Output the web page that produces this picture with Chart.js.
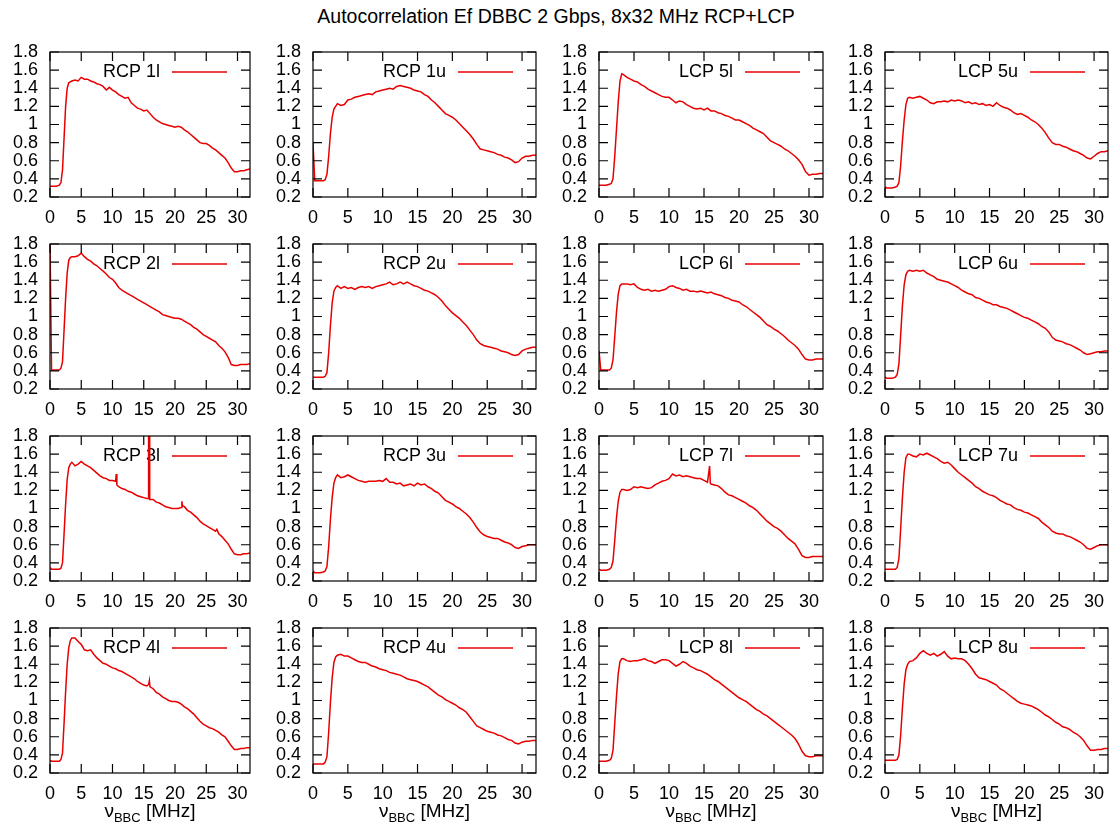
<!DOCTYPE html>
<html>
<head>
<meta charset="utf-8">
<script src="https://cdn.jsdelivr.net/npm/chart.js@4.4.1/dist/chart.umd.min.js"></script>
<style>
  body { margin: 0; background: #fff; width: 1112px; height: 829px; position: relative; overflow: hidden;
         font-family: "Liberation Sans", Arial, sans-serif; }
  #title { position: absolute; left: 0; width: 1112px; top: 5px; text-align: center; font-size: 19.5px; color: #000; }
  canvas { position: absolute; }
  .xl { position: absolute; top: 800px; text-align: center; font-size: 19px; color: #000; white-space: nowrap; }
  .xl sub { font-size: 13px; }
</style>
</head>
<body>
<div id="title">Autocorrelation Ef DBBC 2 Gbps, 8x32 MHz RCP+LCP</div>
<script>
// frequency grid in MHz (finer around the band edge)
const freqs = [0,0.25,0.5,1,1.5,1.75,2,2.25,2.5,2.75,3,3.25,3.5,
  4,4.5,5,5.5,6,6.5,7,7.5,8,8.5,
  9,9.5,10,10.5,11,11.5,12,12.5,13,13.5,
  14,14.5,15,15.5,16,16.5,17,17.5,18,18.5,
  19,19.5,20,20.5,21,21.5,22,22.5,23,23.5,
  24,24.5,25,25.5,26,26.5,27,27.5,28,28.5,
  29,29.5,30,30.5,31,31.5,32];

const xTicks = [0, 5, 10, 15, 20, 25, 30];
const yTicks = [0.2, 0.4, 0.6, 0.8, 1.0, 1.2, 1.4, 1.6, 1.8];
const yTickLabels = ['0.2', '0.4', '0.6', '0.8', '1', '1.2', '1.4', '1.6', '1.8'];

const panelNames = ['RCP 1l', 'RCP 1u', 'LCP 5l', 'LCP 5u',
                    'RCP 2l', 'RCP 2u', 'LCP 6l', 'LCP 6u',
                    'RCP 3l', 'RCP 3u', 'LCP 7l', 'LCP 7u',
                    'RCP 4l', 'RCP 4u', 'LCP 8l', 'LCP 8u'];

const rcp1l = [0.32,0.32,0.32,0.32,0.33,0.36,0.50,0.85,1.20,1.40,1.46,1.47,1.48,
  1.49,1.48,1.52,1.50,1.50,1.48,1.47,1.45,1.44,1.42,
  1.38,1.41,1.38,1.36,1.33,1.31,1.29,1.30,1.24,1.21,
  1.18,1.17,1.15,1.16,1.12,1.08,1.05,1.03,1.01,1.00,
  0.99,0.98,0.97,0.98,0.97,0.94,0.92,0.89,0.86,0.83,
  0.80,0.79,0.79,0.77,0.74,0.72,0.69,0.66,0.63,0.58,
  0.52,0.48,0.48,0.49,0.49,0.50,0.51];
const rcp1u = [0.80,0.38,0.38,0.38,0.38,0.39,0.45,0.65,0.90,1.08,1.17,1.20,1.23,
  1.21,1.22,1.27,1.28,1.30,1.31,1.32,1.33,1.34,1.33,
  1.36,1.37,1.38,1.39,1.40,1.39,1.42,1.43,1.42,1.41,
  1.40,1.38,1.37,1.36,1.33,1.31,1.27,1.24,1.20,1.16,
  1.12,1.10,1.08,1.05,1.01,0.97,0.93,0.89,0.84,0.78,
  0.73,0.72,0.71,0.70,0.69,0.67,0.66,0.64,0.63,0.61,
  0.58,0.59,0.63,0.65,0.65,0.66,0.66];
const lcp5l = [0.33,0.33,0.33,0.33,0.34,0.35,0.40,0.65,0.95,1.25,1.48,1.56,1.55,
  1.52,1.50,1.48,1.47,1.44,1.42,1.39,1.37,1.35,1.33,
  1.31,1.30,1.30,1.27,1.24,1.26,1.25,1.22,1.20,1.18,
  1.17,1.18,1.16,1.18,1.15,1.15,1.13,1.12,1.10,1.09,
  1.07,1.05,1.05,1.03,1.01,0.99,0.96,0.94,0.92,0.90,
  0.86,0.82,0.80,0.78,0.76,0.73,0.71,0.68,0.65,0.61,
  0.56,0.48,0.44,0.45,0.45,0.46,0.46];
const lcp5u = [0.31,0.30,0.30,0.30,0.31,0.32,0.36,0.55,0.82,1.05,1.22,1.29,1.30,
  1.29,1.30,1.31,1.29,1.27,1.24,1.23,1.25,1.25,1.26,
  1.25,1.27,1.26,1.27,1.26,1.24,1.25,1.23,1.24,1.22,
  1.23,1.21,1.22,1.20,1.24,1.21,1.19,1.18,1.16,1.13,
  1.11,1.12,1.10,1.08,1.05,1.03,1.00,0.96,0.91,0.85,
  0.80,0.78,0.78,0.76,0.75,0.73,0.71,0.70,0.68,0.66,
  0.63,0.62,0.65,0.68,0.70,0.70,0.71];
const rcp2l = [1.80,0.41,0.41,0.41,0.41,0.43,0.50,0.85,1.20,1.48,1.62,1.65,1.66,
  1.66,1.67,1.70,1.66,1.63,1.61,1.58,1.56,1.53,1.50,
  1.47,1.43,1.41,1.37,1.32,1.29,1.27,1.25,1.23,1.21,
  1.19,1.17,1.15,1.13,1.11,1.09,1.07,1.05,1.02,1.01,
  1.00,0.99,0.98,0.98,0.97,0.95,0.93,0.91,0.88,0.86,
  0.83,0.80,0.78,0.76,0.74,0.72,0.68,0.65,0.61,0.55,
  0.47,0.46,0.46,0.47,0.47,0.47,0.48];
const rcp2u = [0.33,0.33,0.33,0.33,0.33,0.34,0.38,0.60,0.90,1.15,1.28,1.32,1.34,
  1.31,1.33,1.31,1.32,1.30,1.32,1.33,1.32,1.33,1.31,
  1.33,1.34,1.35,1.36,1.38,1.35,1.36,1.38,1.36,1.38,
  1.36,1.34,1.33,1.31,1.29,1.28,1.26,1.24,1.21,1.17,
  1.12,1.08,1.04,1.01,0.98,0.94,0.90,0.85,0.80,0.74,
  0.70,0.68,0.67,0.66,0.65,0.64,0.62,0.61,0.60,0.58,
  0.57,0.58,0.62,0.64,0.65,0.66,0.66];
const lcp6l = [0.62,0.41,0.41,0.41,0.41,0.43,0.52,0.78,1.05,1.25,1.34,1.36,1.36,
  1.36,1.35,1.36,1.32,1.30,1.29,1.30,1.28,1.29,1.28,
  1.29,1.30,1.33,1.34,1.32,1.31,1.29,1.30,1.28,1.28,
  1.27,1.28,1.27,1.26,1.27,1.25,1.24,1.23,1.21,1.20,
  1.18,1.17,1.16,1.13,1.11,1.08,1.05,1.02,0.99,0.95,
  0.91,0.89,0.86,0.84,0.81,0.78,0.74,0.71,0.68,0.64,
  0.58,0.53,0.52,0.52,0.53,0.53,0.53];
const lcp6u = [0.33,0.32,0.32,0.32,0.33,0.36,0.48,0.80,1.12,1.35,1.46,1.50,1.51,
  1.50,1.51,1.50,1.51,1.48,1.46,1.44,1.41,1.40,1.39,
  1.38,1.36,1.34,1.32,1.29,1.27,1.25,1.24,1.21,1.20,
  1.18,1.16,1.15,1.13,1.13,1.11,1.10,1.09,1.07,1.05,
  1.03,1.01,0.99,0.98,0.96,0.94,0.92,0.89,0.87,0.83,
  0.77,0.74,0.73,0.72,0.70,0.69,0.67,0.65,0.63,0.60,
  0.58,0.59,0.60,0.61,0.61,0.62,0.62];
const rcp3l = [0.35,0.33,0.33,0.33,0.33,0.34,0.40,0.72,1.05,1.32,1.45,1.49,1.51,
  1.47,1.49,1.52,1.49,1.47,1.45,1.42,1.39,1.36,1.34,
  1.33,1.31,1.31,1.30,1.24,1.22,1.21,1.19,1.18,1.16,
  1.14,1.13,1.12,1.11,1.10,1.10,1.07,1.06,1.04,1.02,
  1.01,1.00,1.00,1.00,1.01,1.02,0.98,0.96,0.93,0.90,
  0.86,0.83,0.81,0.79,0.77,0.75,0.72,0.69,0.65,0.61,
  0.55,0.50,0.49,0.49,0.50,0.50,0.51];
const rcp3u = [0.31,0.29,0.29,0.29,0.30,0.31,0.36,0.58,0.88,1.12,1.28,1.34,1.37,
  1.34,1.35,1.37,1.35,1.33,1.31,1.30,1.29,1.30,1.30,
  1.30,1.31,1.30,1.33,1.29,1.29,1.27,1.28,1.25,1.26,
  1.27,1.25,1.28,1.26,1.27,1.24,1.22,1.19,1.17,1.13,
  1.09,1.07,1.05,1.02,1.00,0.97,0.94,0.90,0.85,0.79,
  0.74,0.71,0.69,0.68,0.67,0.67,0.65,0.63,0.62,0.60,
  0.57,0.56,0.58,0.59,0.60,0.60,0.60];
const lcp7l = [0.33,0.32,0.32,0.32,0.33,0.35,0.42,0.65,0.90,1.08,1.18,1.21,1.21,
  1.20,1.21,1.24,1.23,1.24,1.23,1.22,1.23,1.26,1.28,
  1.30,1.31,1.33,1.38,1.36,1.37,1.35,1.36,1.35,1.34,
  1.33,1.33,1.31,1.29,1.27,1.26,1.25,1.22,1.18,1.15,
  1.14,1.12,1.10,1.08,1.06,1.03,1.01,0.98,0.94,0.90,
  0.86,0.83,0.80,0.78,0.75,0.71,0.67,0.64,0.61,0.55,
  0.48,0.46,0.46,0.47,0.47,0.47,0.47];
const lcp7u = [0.33,0.33,0.33,0.33,0.33,0.35,0.45,0.78,1.12,1.40,1.56,1.60,1.60,
  1.58,1.57,1.60,1.59,1.61,1.59,1.57,1.55,1.52,1.50,
  1.51,1.48,1.44,1.40,1.37,1.34,1.31,1.28,1.24,1.22,
  1.19,1.17,1.15,1.14,1.12,1.09,1.07,1.05,1.04,1.01,
  0.99,0.98,0.96,0.95,0.93,0.91,0.89,0.85,0.82,0.79,
  0.75,0.73,0.72,0.72,0.70,0.69,0.67,0.65,0.63,0.60,
  0.56,0.55,0.57,0.59,0.60,0.60,0.60];
const rcp4l = [0.34,0.33,0.33,0.33,0.33,0.35,0.42,0.75,1.10,1.40,1.58,1.66,1.69,
  1.69,1.65,1.62,1.56,1.55,1.56,1.51,1.47,1.44,1.41,
  1.40,1.38,1.36,1.35,1.33,1.32,1.30,1.28,1.26,1.24,
  1.21,1.19,1.17,1.16,1.15,1.13,1.09,1.07,1.04,1.02,
  1.00,0.99,0.99,0.98,0.96,0.93,0.91,0.88,0.85,0.81,
  0.77,0.74,0.72,0.70,0.69,0.67,0.65,0.62,0.60,0.55,
  0.50,0.46,0.46,0.47,0.47,0.48,0.48];
const rcp4u = [0.30,0.30,0.30,0.30,0.30,0.32,0.38,0.65,0.98,1.25,1.42,1.48,1.50,
  1.51,1.49,1.49,1.47,1.45,1.43,1.42,1.42,1.40,1.38,
  1.37,1.35,1.34,1.33,1.31,1.30,1.29,1.28,1.26,1.24,
  1.23,1.22,1.21,1.19,1.17,1.15,1.12,1.09,1.06,1.04,
  1.01,0.99,0.97,0.95,0.92,0.90,0.87,0.82,0.77,0.72,
  0.70,0.68,0.66,0.65,0.64,0.62,0.61,0.59,0.57,0.56,
  0.53,0.52,0.54,0.55,0.55,0.56,0.56];
const lcp8l = [0.33,0.33,0.33,0.33,0.34,0.36,0.45,0.75,1.05,1.30,1.43,1.46,1.46,
  1.44,1.43,1.44,1.44,1.45,1.46,1.44,1.43,1.41,1.43,
  1.45,1.45,1.44,1.41,1.38,1.40,1.43,1.41,1.38,1.36,
  1.34,1.33,1.31,1.29,1.26,1.23,1.21,1.18,1.15,1.12,
  1.09,1.06,1.03,1.01,0.99,0.96,0.93,0.90,0.88,0.85,
  0.83,0.80,0.77,0.74,0.71,0.68,0.65,0.62,0.58,0.52,
  0.44,0.39,0.38,0.38,0.39,0.39,0.39];
const lcp8u = [0.34,0.34,0.34,0.34,0.34,0.35,0.40,0.62,0.92,1.18,1.34,1.40,1.43,
  1.44,1.47,1.52,1.55,1.52,1.50,1.52,1.49,1.51,1.54,
  1.49,1.46,1.47,1.46,1.46,1.44,1.40,1.35,1.29,1.25,
  1.24,1.23,1.21,1.19,1.17,1.13,1.11,1.08,1.05,1.02,
  0.99,0.97,0.96,0.95,0.94,0.92,0.90,0.87,0.84,0.82,
  0.79,0.76,0.74,0.71,0.70,0.68,0.65,0.63,0.60,0.56,
  0.50,0.45,0.45,0.46,0.46,0.47,0.47];

// narrow RFI spikes: [freq, value]
const spikesRcp3l = [[10.6,1.38],[10.7,1.26],[15.7,1.11],[15.75,1.95],[15.8,1.12],[15.9,1.95],[15.95,1.10],[21.1,1.08],[21.2,1.03],[26.7,0.77]];
const spikesLcp7l = [[15.8,1.47],[15.9,1.28]];
const spikesRcp4l = [[15.8,1.18],[15.9,1.22]];

const panelValues = [rcp1l, rcp1u, lcp5l, lcp5u, rcp2l, rcp2u, lcp6l, lcp6u,
                     rcp3l, rcp3u, lcp7l, lcp7u, rcp4l, rcp4u, lcp8l, lcp8u];
const panelSpikes = { 8: spikesRcp3l, 10: spikesLcp7l, 12: spikesRcp4l };

// page layout of the plot boxes
const colLeft = [50, 313, 599, 885];
const colWidth = [200, 223, 224, 223];
const rowTop = [52, 244, 436, 628];
const plotH = 145;
const YW = 50, PT = 14, XH = 36;

const FONT = '"Liberation Sans", Arial, sans-serif';
const RED = 'rgb(232,0,0)';

// gnuplot-like border, inward ticks on all sides, and key
const framePlugin = {
  id: 'frame',
  beforeDatasetsDraw(chart, args, opts) {
    const { ctx, chartArea: a } = chart;
    const yk = a.top + 20;
    ctx.save();
    ctx.font = '18px ' + FONT;
    ctx.fillStyle = '#000';
    ctx.textAlign = 'right';
    ctx.textBaseline = 'middle';
    ctx.fillText(opts.name, a.right - 90, yk);
    ctx.strokeStyle = RED;
    ctx.lineWidth = 1.5;
    ctx.beginPath();
    ctx.moveTo(a.right - 78, yk);
    ctx.lineTo(a.right - 23, yk);
    ctx.stroke();
    ctx.restore();
  },
  afterDatasetsDraw(chart) {
    const { ctx, chartArea: a, scales: { x, y } } = chart;
    ctx.save();
    ctx.strokeStyle = '#000';
    ctx.lineWidth = 1.2;
    ctx.beginPath();
    xTicks.forEach(v => {
      const px = x.getPixelForValue(v);
      ctx.moveTo(px, a.bottom); ctx.lineTo(px, a.bottom - 9);
      ctx.moveTo(px, a.top); ctx.lineTo(px, a.top + 9);
    });
    yTicks.forEach(v => {
      const py = y.getPixelForValue(v);
      ctx.moveTo(a.left, py); ctx.lineTo(a.left + 9, py);
      ctx.moveTo(a.right, py); ctx.lineTo(a.right - 9, py);
    });
    ctx.stroke();
    ctx.strokeRect(a.left, a.top, a.right - a.left, a.bottom - a.top);
    ctx.restore();
  }
};

panelNames.forEach((name, i) => {
  const r = Math.floor(i / 4), c = i % 4;
  const PR = c === 3 ? 4 : 6;
  const cv = document.createElement('canvas');
  const w = YW + colWidth[c] + PR, h = PT + plotH + XH;
  cv.width = w; cv.height = h;
  cv.style.left = (colLeft[c] - YW) + 'px';
  cv.style.top = (rowTop[r] - PT) + 'px';
  cv.style.width = w + 'px'; cv.style.height = h + 'px';
  document.body.appendChild(cv);

  const vals = panelValues[i];
  const pts = freqs.map((f, k) => ({ x: f, y: vals[k] }));
  (panelSpikes[i] || []).forEach(s => pts.push({ x: s[0], y: s[1] }));
  pts.sort((p, q) => p.x - q.x);

  new Chart(cv.getContext('2d'), {
    type: 'line',
    data: { datasets: [{ label: name, data: pts, borderColor: RED, borderWidth: 1.5,
                         pointRadius: 0, tension: 0, fill: false, clip: 0 }] },
    options: {
      responsive: false, animation: false, devicePixelRatio: 1, events: [],
      layout: { padding: { top: PT, right: PR, left: 0, bottom: 0 } },
      plugins: { legend: { display: false }, tooltip: { enabled: false }, frame: { name: name } },
      scales: {
        x: {
          type: 'linear', min: 0, max: 32,
          afterBuildTicks: s => { s.ticks = xTicks.map(v => ({ value: v })); },
          grid: { display: false, drawTicks: false }, border: { display: false },
          ticks: { font: { family: FONT, size: 18 }, color: '#000', padding: 10,
                   maxRotation: 0, autoSkip: false },
          afterFit: s => { s.height = XH; s.paddingLeft = 0; s.paddingRight = 0; }
        },
        y: {
          type: 'linear', min: 0.2, max: 1.8,
          afterBuildTicks: s => { s.ticks = yTicks.map(v => ({ value: v })); },
          grid: { display: false, drawTicks: false }, border: { display: false },
          ticks: { font: { family: FONT, size: 18 }, color: '#000', padding: 12, autoSkip: false,
                   callback: (v) => yTickLabels[yTicks.findIndex(t => Math.abs(t - v) < 1e-6)] },
          afterFit: s => { s.width = YW; s.paddingTop = 0; s.paddingBottom = 0; }
        }
      }
    },
    plugins: [framePlugin]
  });

  if (r === 3) {
    const lab = document.createElement('div');
    lab.className = 'xl';
    lab.innerHTML = '\u03bd<sub>BBC</sub> [MHz]';
    lab.style.left = colLeft[c] + 'px';
    lab.style.width = colWidth[c] + 'px';
    document.body.appendChild(lab);
  }
});
</script>
</body>
</html>
